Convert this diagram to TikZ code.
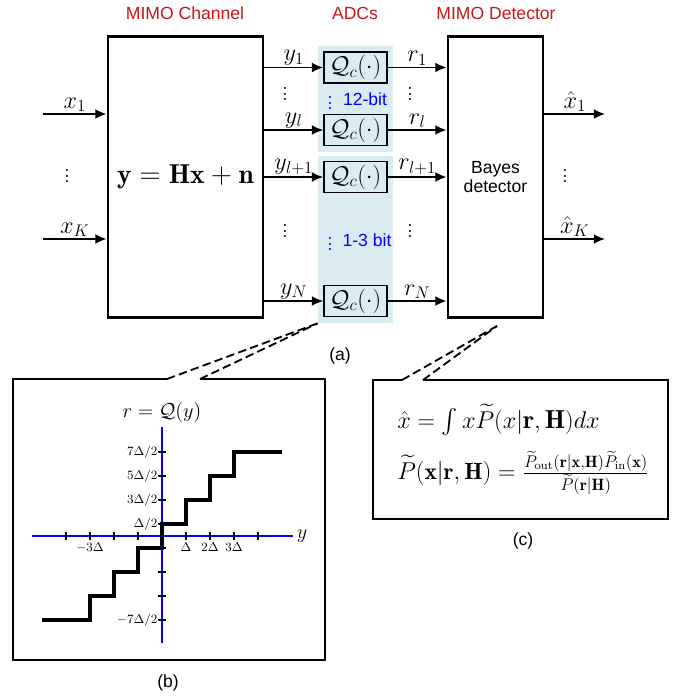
\documentclass[tikz,border=0pt]{standalone}
\usepackage{fontspec}
\usepackage{amsmath}
\newfontfamily\labelfont{Liberation Sans}
\usetikzlibrary{arrows.meta}
\definecolor{titlered}{RGB}{204,20,20}
\definecolor{adcblue}{RGB}{218,236,242}
\definecolor{axisblue}{RGB}{0,0,255}
\begin{document}
\begin{tikzpicture}[x=0.025cm,y=-0.025cm,
    bigbox/.style={draw,line width=2.1pt,inner sep=0pt},
    qbox/.style={draw,line width=1.3pt,minimum width=1.575cm,minimum height=0.775cm,inner sep=0pt,font=\fontsize{17}{20}\selectfont},
    band/.style={fill=adcblue,minimum width=1.875cm,inner sep=0pt},
    sig/.style={-{Latex[length=8pt,width=7pt]},line width=1pt},
    heading/.style={text=titlered,font=\labelfont\fontsize{12.5}{15}\selectfont},
    sans/.style={font=\labelfont\fontsize{12.5}{14}\selectfont},
    sym/.style={font=\fontsize{18}{21}\selectfont,inner sep=1pt},
    dotsnode/.style={font=\fontsize{18}{20}\selectfont,inner sep=0pt},
    zoomline/.style={line width=1.3pt,dash pattern=on 6pt off 3pt},
    panel/.style={line width=1.3pt},
    axisline/.style={draw=axisblue,line width=1.4pt},
    tickline/.style={line width=0.9pt},
    ticklabel/.style={font=\fontsize{9}{11}\selectfont,inner sep=1pt}
]
\useasboundingbox (0,0) rectangle (683,698);

% headings
\node[heading] (chantitle) at (185,13) {MIMO Channel};
\node[heading] (adctitle)  at (355,13) {ADCs};
\node[heading] (dettitle)  at (496,13) {MIMO Detector};

% ADC bands
\node[band,minimum height=2.65cm]  (adcup) at (355.5,99) {};
\node[band,minimum height=4.175cm] (adclo) at (355.5,239.5) {};

% blocks
\node[bigbox,minimum width=3.875cm,minimum height=7cm,font=\fontsize{19.5}{23}\selectfont] (chan) at (185.5,177) {$\mathbf{y}=\mathbf{H}\mathbf{x}+\mathbf{n}$};
\node[bigbox,minimum width=2.375cm,minimum height=7cm,sans,align=center] (det) at (495.5,177) {Bayes\\detector};

% inputs and outputs
\coordinate (in1)  at (43,114);
\coordinate (inK)  at (43,239);
\coordinate (out1) at (605,114);
\coordinate (outK) at (605,239);
\draw[sig] (in1) -- (in1 -| chan.west) node[midway,above,sym] (lx1) {$x_1$};
\draw[sig] (inK) -- (inK -| chan.west) node[midway,above,sym] (lxK) {$x_K$};
\draw[sig] (out1 -| det.east) -- (out1) node[midway,above,sym] (lh1) {$\hat{x}_1$};
\draw[sig] (outK -| det.east) -- (outK) node[midway,above,sym] (lhK) {$\hat{x}_K$};
\node[dotsnode] (indots)  at (67,172)  {$\vdots$};
\node[dotsnode] (outdots) at (565,172) {$\vdots$};

% quantizer rows
\foreach \r/\yy/\lab in {1/67.5/1, 2/130/l, 3/177/{l+1}, 4/301/N}{
  \node[qbox] (q\r) at (355.5,\yy) {$\mathcal{Q}_c(\cdot)$};
  \draw[sig] (q\r.west -| chan.east) -- (q\r.west) node[midway,above,sym] (ly\r) {$y_{\lab}$};
  \draw[sig] (q\r.east) -- (q\r.east -| det.west) node[midway,above,sym] (lr\r) {$r_{\lab}$};
}
\node[dotsnode] (ydots1) at (285,90)  {$\vdots$};
\node[dotsnode] (rdots1) at (410,90)  {$\vdots$};
\node[dotsnode] (ydots2) at (285,227) {$\vdots$};
\node[dotsnode] (rdots2) at (410,227) {$\vdots$};
\node[dotsnode,text=blue] (bdots1) at (330,99)  {$\vdots$};
\node[dotsnode,text=blue] (bdots2) at (330,240) {$\vdots$};
\node[sans,text=blue,inner sep=1pt] (bits1) at (365,99)  {12-bit};
\node[sans,text=blue,inner sep=1pt] (bits2) at (367,240) {1-3 bit};

\node[sans] (capa) at (340,356) {(a)};

% panel (b)
\coordinate (bgap1) at (167,379);
\coordinate (bgap2) at (200,379);
\draw[panel] (bgap1) -- (13,379) -- (13,660) -- (325,660) -- (325,379) -- (bgap2);
\draw[zoomline] (bgap1) -- (adclo.south west);
\draw[zoomline] (bgap2) -- (adclo.south west);
\node[sans] (capb) at (168,683) {(b)};

\begin{scope}[shift={(162,536)},x=0.6cm,y=0.6cm]
  \draw[axisline] (-5.42,0) -- (5.46,0) node[right,font=\fontsize{14}{16}\selectfont,inner sep=2pt] (yname) {$y$};
  \draw[axisline] (0,-4.46) -- (0,4.54);
  \node[font=\fontsize{14}{16}\selectfont] (rname) at (0,5.13) {$r=\mathcal{Q}(y)$};
  \foreach \t in {-4,-3,-2,-1,1,2,3,4}
    \draw[tickline] (\t,-0.17) -- (\t,0.17);
  \foreach \t in {-3.5,-2.5,-1.5,-0.5,0.5,1.5,2.5,3.5}
    \draw[tickline] (-0.17,\t) -- (0.17,\t);
  \foreach \t/\lab in {-3/{-3\Delta}, 1/{\Delta}, 2/{2\Delta}, 3/{3\Delta}}
    \node[ticklabel,below] (xl\t) at (\t,-0.2) {$\lab$};
  \foreach \t/\lab in {3.5/{7\Delta/2}, 2.5/{5\Delta/2}, 1.5/{3\Delta/2}, 0.5/{\Delta/2}, -3.5/{-7\Delta/2}}
    \node[ticklabel,left] (rl\t) at (-0.12,\t) {$\lab$};
  \draw[line width=3.5pt] (-5,-3.5) -- (-3,-3.5) -- (-3,-2.5) -- (-2,-2.5) -- (-2,-1.5)
    -- (-1,-1.5) -- (-1,-0.5) -- (0,-0.5) -- (0,0.5) -- (1,0.5) -- (1,1.5) -- (2,1.5)
    -- (2,2.5) -- (3,2.5) -- (3,3.5) -- (5,3.5);
\end{scope}

% panel (c)
\coordinate (cgap1) at (402,380);
\coordinate (cgap2) at (423,380);
\coordinate (detfoot) at (497,326);
\draw[panel] (cgap1) -- (373,380) -- (373,519) -- (668,519) -- (668,380) -- (cgap2);
\draw[zoomline] (cgap1) -- (detfoot);
\draw[zoomline] (cgap2) -- (detfoot);
\node[font=\fontsize{18.5}{22}\selectfont,anchor=west,inner sep=0pt] (bayes) at (397,420)
  {$\hat{x}=\int x\widetilde{P}(x|\mathbf{r},\mathbf{H})dx$};
\node[font=\fontsize{16.7}{20}\selectfont,anchor=west,inner sep=0pt] (post) at (397,473)
  {$\widetilde{P}(\mathbf{x}|\mathbf{r},\mathbf{H})=\frac{\widetilde{P}_{\mathrm{out}}(\mathbf{r}|\mathbf{x},\mathbf{H})\widetilde{P}_{\mathrm{in}}(\mathbf{x})}{\widetilde{P}(\mathbf{r}|\mathbf{H})}$};
\node[sans] (capc) at (523,541) {(c)};
\end{tikzpicture}
\end{document}
